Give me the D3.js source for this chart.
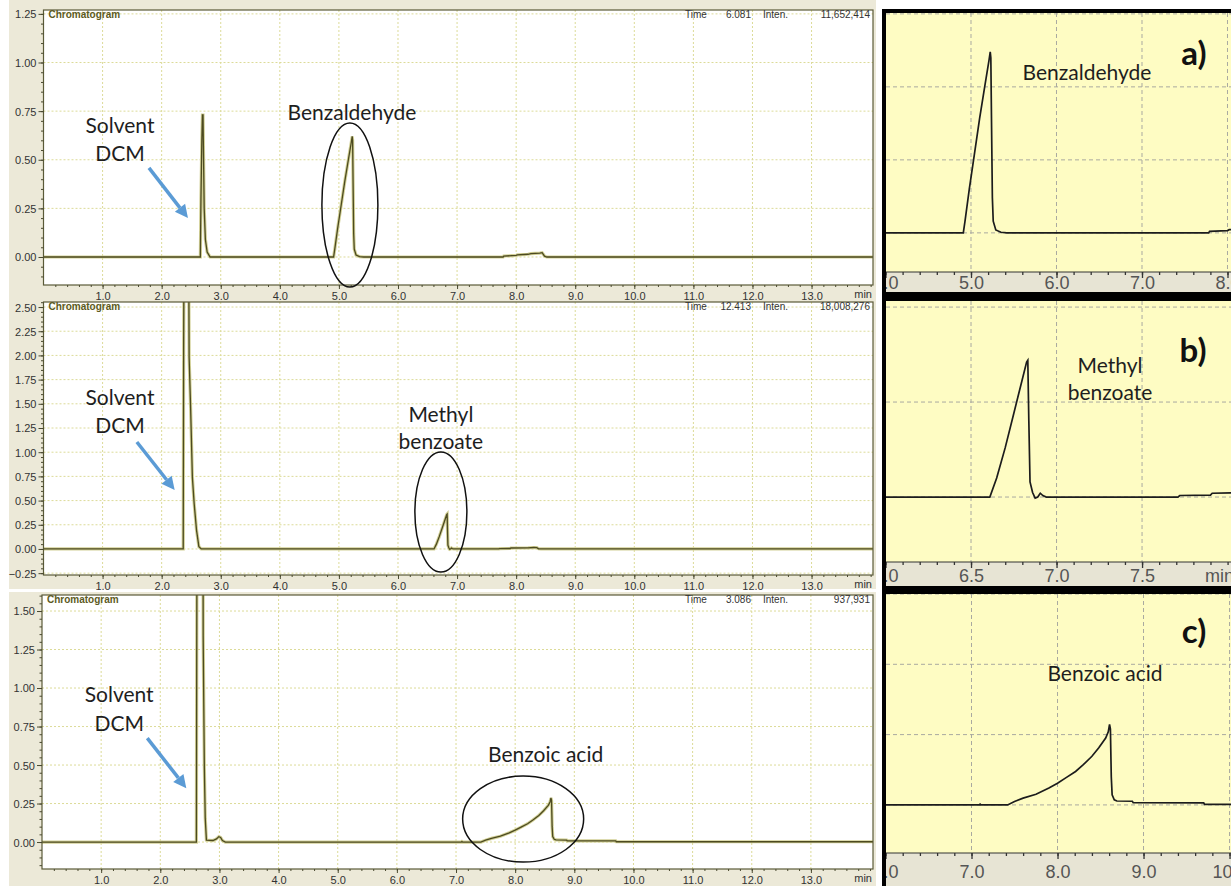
<!DOCTYPE html>
<html>
<head>
<meta charset="utf-8">
<script src="https://cdn.jsdelivr.net/npm/d3@7"></script>
<style>
  body { margin: 0; background: #fff; }
  svg { display: block; }
</style>
</head>
<body>
<div id="chart"></div>
<script>
// GC traces: [retention time (min), intensity (x10^7)]
const benzaldehydeRun = [
  [0, 0], [2.655, 0], [2.665, 0.30], [2.68, 0.60], [2.69, 0.73], [2.70, 0.73], [2.705, 0.60],
  [2.72, 0.25], [2.74, 0.09], [2.77, 0.025], [2.82, 0],
  [4.91, 0], [4.93, 0.04], [4.98, 0.15], [5.04, 0.27], [5.10, 0.39], [5.16, 0.50], [5.21, 0.59],
  [5.225, 0.62], [5.232, 0.60], [5.24, 0.38], [5.25, 0.12], [5.26, 0.04], [5.29, 0.01], [5.35, 0.002], [5.42, 0],
  [7.78, 0], [7.79, 0.005], [8.0, 0.008], [8.02, 0.011], [8.2, 0.014], [8.25, 0.017], [8.40, 0.02],
  [8.44, 0.022], [8.48, 0.004], [8.52, 0], [14.2, 0]
];
const methylBenzoateRun = [
  [0, 0], [2.365, 0], [2.372, 2.05], [2.38, 3.5], [2.455, 3.5], [2.465, 1.98], [2.49, 1.46],
  [2.52, 0.74], [2.55, 0.47], [2.59, 0.195], [2.63, 0.024], [2.67, 0],
  [6.61, 0], [6.65, 0.05], [6.70, 0.13], [6.75, 0.22], [6.80, 0.31], [6.825, 0.355], [6.832, 0.36],
  [6.838, 0.2], [6.845, 0.04], [6.86, 0.012], [6.875, -0.003], [6.89, 0.0], [6.905, 0.01], [6.92, 0.004], [6.94, 0],
  [7.71, 0], [7.72, 0.004], [7.90, 0.005], [7.91, 0.01], [8.2, 0.012], [8.3, 0.015], [8.35, 0.014],
  [8.38, 0.002], [8.42, 0], [14.2, 0]
];
const benzoicAcidRun = [
  [0, 0], [2.61, 0], [2.62, 2.0], [2.625, 3.0], [2.72, 3.0], [2.725, 1.34], [2.735, 0.9], [2.745, 0.48],
  [2.76, 0.155], [2.78, 0.013], [2.89, 0.01], [2.95, 0.02], [2.99, 0.035], [3.02, 0.03], [3.05, 0.01], [3.1, 0],
  [7.09, 0], [7.1, 0.003], [7.11, 0], [7.42, 0], [7.5, 0.012], [7.6, 0.024], [7.75, 0.038], [7.9, 0.06],
  [8.0, 0.077], [8.1, 0.097], [8.21, 0.119], [8.3, 0.143], [8.4, 0.173], [8.48, 0.203], [8.56, 0.238],
  [8.59, 0.26], [8.605, 0.286], [8.615, 0.27], [8.625, 0.1], [8.635, 0.036], [8.66, 0.018], [8.69, 0.014],
  [8.87, 0.013], [8.88, 0.008], [9.7, 0.007], [9.71, 0.002], [14.2, 0.002]
];

const headerTimes = ["6.081", "12.413", "3.086"];
const headerIntens = ["11,652,414", "18,008,276", "937,931"];
const overviewXTicks = [1, 2, 3, 4, 5, 6, 7, 8, 9, 10, 11, 12, 13];
const benzYTicks = [0, 0.25, 0.5, 0.75, 1.0, 1.25];
const methylYTicks = [-0.25, 0, 0.25, 0.5, 0.75, 1.0, 1.25, 1.5, 1.75, 2.0, 2.25, 2.5];
const acidYTicks = [0, 0.25, 0.5, 0.75, 1.0, 1.25, 1.5];
const compoundNames = [["Benzaldehyde"], ["Methyl", "benzoate"], ["Benzoic acid"]];
const panelTags = ["a)", "b)", "c)"];
const zoomXTicks = [[4, 5, 6, 7, 8], [6, 6.5, 7, 7.5], [6, 7, 8, 9, 10]];
const zoomGridY = [0, 0.25, 0.5, 0.75];

const W = 1231, H = 886;
const svg = d3.select('#chart').append('svg').attr('width', W).attr('height', H);
const fmt1 = d3.format('.1f'), fmt2 = d3.format('.2f');

const overviewPanels = [
  { run: benzaldehydeRun, box: [43.5, 873, 10, 285], xMax: 14.04, yDom: [-0.144, 1.27], yTicks: benzYTicks, bg: [0, 300],
    solvent: [1.294, 0.638, 0.494], arrow: [[1.785, 0.458], [2.445, 0.2]],
    name: [5.22, [0.705]], ellipse: [5.186, 0.267, 28, 82] },
  { run: methylBenzoateRun, box: [43.5, 873, 302, 575], xMax: 14.04, yDom: [-0.269, 2.552], yTicks: methylYTicks, bg: [300, 589],
    solvent: [1.294, 1.488, 1.198], arrow: [[1.58, 1.105], [2.22, 0.61]],
    name: [6.726, [1.312, 1.033]], ellipse: [6.726, 0.382, 26, 60] },
  { run: benzoicAcidRun, box: [42, 873, 595, 869], xMax: 14.05, yDom: [-0.175, 1.604], yTicks: acidYTicks, bg: [592, 886],
    solvent: [1.305, 0.909, 0.721], arrow: [[1.78, 0.675], [2.44, 0.35]],
    name: [8.515, [0.519]], ellipse: [8.135, 0.149, 60.5, 43] }
];

const annotFont = '21px Lato, "Open Sans", sans-serif';

function drawOverview(p, i) {
  const [x0, x1, y0, y1] = p.box;
  const g = svg.append('g');
  g.append('rect').attr('x', 9).attr('y', p.bg[0]).attr('width', 867).attr('height', p.bg[1] - p.bg[0]).attr('fill', '#ece9d8');
  g.append('rect').attr('x', x0).attr('y', y0).attr('width', x1 - x0).attr('height', y1 - y0).attr('fill', '#fff');

  const x = d3.scaleLinear().domain([0, p.xMax]).range([x0, x1]);
  const y = d3.scaleLinear().domain(p.yDom).range([y1, y0]);

  // dotted grid
  const grid = g.append('g').attr('stroke', '#dcdb98').attr('stroke-dasharray', '2,2').attr('stroke-width', 1);
  grid.selectAll('.vx').data(overviewXTicks).join('line')
    .attr('x1', d => x(d)).attr('x2', d => x(d)).attr('y1', y0).attr('y2', y1);
  grid.selectAll('.hy').data(p.yTicks).join('line')
    .attr('x1', x0).attr('x2', x1).attr('y1', d => y(d)).attr('y2', d => y(d));

  // trace
  const clipId = 'clipO' + i;
  g.append('clipPath').attr('id', clipId).append('rect')
    .attr('x', x0).attr('y', y0).attr('width', x1 - x0).attr('height', y1 - y0);
  const line = d3.line().x(d => x(d[0])).y(d => y(d[1]));
  const tr = g.append('g').attr('clip-path', `url(#${clipId})`);
  tr.append('path').datum(p.run).attr('d', line).attr('fill', 'none').attr('stroke', '#d2d096').attr('stroke-width', 3.2);
  tr.append('path').datum(p.run).attr('d', line).attr('fill', 'none').attr('stroke', '#4c4a20').attr('stroke-width', 1.3);

  // frame
  g.append('rect').attr('x', x0).attr('y', y0).attr('width', x1 - x0).attr('height', y1 - y0)
    .attr('fill', 'none').attr('stroke', '#5a5a38').attr('stroke-width', 1.2);

  // axes
  const minorX = d3.range(0.2, p.xMax, 0.2);
  const minorY = d3.range(Math.ceil(p.yDom[0] / 0.05) * 0.05, p.yDom[1], 0.05);
  g.append('g').attr('transform', `translate(0,${y1})`)
    .call(d3.axisBottom(x).tickValues(overviewXTicks).tickFormat(fmt1).tickSize(4).tickPadding(3));
  g.append('g').attr('transform', `translate(0,${y1})`)
    .call(d3.axisBottom(x).tickValues(minorX).tickFormat('').tickSize(2));
  const ya = g.append('g').attr('transform', `translate(${x0},0)`)
    .call(d3.axisLeft(y).tickValues(p.yTicks).tickFormat(fmt2).tickSize(5).tickPadding(2));
  g.append('g').attr('transform', `translate(${x0},0)`)
    .call(d3.axisLeft(y).tickValues(minorY).tickFormat('').tickSize(2.5));
  g.selectAll('.domain').remove();
  g.selectAll('.tick line').attr('stroke', '#4a4a30');
  g.selectAll('.tick text').attr('fill', '#333').style('font', '11px "Liberation Sans", Arial, sans-serif');
  ya.selectAll('.tick text').attr('dy', '0.36em');

  g.append('text').attr('x', 872).attr('y', y1 + 13).attr('text-anchor', 'end')
    .attr('fill', '#333').style('font', '11px "Liberation Sans", Arial, sans-serif').text('min');

  // header
  const hf = '10px "Liberation Sans", Arial, sans-serif';
  g.append('text').attr('x', x0 + 5).attr('y', y0 + 8).attr('fill', '#5c5a22')
    .style('font', 'bold ' + hf).text('Chromatogram');
  g.append('text').attr('x', 685).attr('y', y0 + 8).attr('fill', '#333').style('font', hf).text('Time');
  g.append('text').attr('x', 751).attr('y', y0 + 8).attr('text-anchor', 'end').attr('fill', '#333').style('font', hf).text(headerTimes[i]);
  g.append('text').attr('x', 763).attr('y', y0 + 8).attr('fill', '#333').style('font', hf).text('Inten.');
  g.append('text').attr('x', 870).attr('y', y0 + 8).attr('text-anchor', 'end').attr('fill', '#333').style('font', hf).text(headerIntens[i]);

  // annotations
  g.append('text').attr('x', x(p.solvent[0])).attr('y', y(p.solvent[1])).attr('text-anchor', 'middle')
    .attr('fill', '#1e1e1e').style('font', annotFont).text('Solvent');
  g.append('text').attr('x', x(p.solvent[0])).attr('y', y(p.solvent[2])).attr('text-anchor', 'middle')
    .attr('fill', '#1e1e1e').style('font', annotFont).text('DCM');
  compoundNames[i].forEach((t, k) => {
    g.append('text').attr('x', x(p.name[0])).attr('y', y(p.name[1][k])).attr('text-anchor', 'middle')
      .attr('fill', '#1e1e1e').style('font', annotFont).text(t);
  });
  g.append('ellipse').attr('cx', x(p.ellipse[0])).attr('cy', y(p.ellipse[1]))
    .attr('rx', p.ellipse[2]).attr('ry', p.ellipse[3])
    .attr('fill', 'none').attr('stroke', '#111').attr('stroke-width', 1.5);

  // arrow
  const [a0, a1] = p.arrow;
  const sx = x(a0[0]), sy = y(a0[1]), ex = x(a1[0]), ey = y(a1[1]);
  const ang = Math.atan2(ey - sy, ex - sx), hl = 13, hw = 6.5;
  const bx = ex - hl * Math.cos(ang), by = ey - hl * Math.sin(ang);
  g.append('line').attr('x1', sx).attr('y1', sy).attr('x2', bx).attr('y2', by)
    .attr('stroke', '#5b9bd5').attr('stroke-width', 3.5);
  g.append('path').attr('fill', '#5b9bd5')
    .attr('d', `M${ex},${ey}L${bx + hw * Math.sin(ang)},${by - hw * Math.cos(ang)}L${bx - hw * Math.sin(ang)},${by + hw * Math.cos(ang)}Z`);
}

overviewPanels.forEach(drawOverview);

// zoomed panels on the right
const zoomPanels = [
  { run: benzaldehydeRun, plot: [13, 272], strip: 292, labelY: 4, xDom: [4, 8.041], yDom: [-0.134, 0.753],
    tag: [7.608, 0.575], name: [6.357, [0.524]], minor: 0.2 },
  { run: methylBenzoateRun, plot: [301, 562], strip: 586, labelY: 7, xDom: [6, 8.02], yDom: [-0.171, 0.516],
    tag: [7.798, 0.355], name: [7.313, [0.326, 0.255]], minor: 0.1 },
  { run: benzoicAcidRun, plot: [594, 853], strip: 886, labelY: 12, xDom: [6, 10.017], yDom: [-0.171, 0.75],
    tag: [9.587, 0.575], name: [8.552, [0.439]], minor: 0.2 }
];
const zx0 = 885.5, zx1 = W;
const zoomTickFont = '18px "Liberation Sans", Arial, sans-serif';

function drawZoom(p, i) {
  const [y0, y1] = p.plot;
  const g = svg.append('g');
  const x = d3.scaleLinear().domain(p.xDom).range([zx0, zx1]);
  const y = d3.scaleLinear().domain(p.yDom).range([y1, y0]);
  const clipId = 'clipZ' + i;
  g.append('clipPath').attr('id', clipId).append('rect')
    .attr('x', 886).attr('y', y0).attr('width', W - 886).attr('height', p.strip - y0);
  const c = g.append('g').attr('clip-path', `url(#${clipId})`);
  c.append('rect').attr('x', 886).attr('y', y0).attr('width', W - 886).attr('height', y1 - y0).attr('fill', '#fefcc3');
  c.append('rect').attr('x', 886).attr('y', y1).attr('width', W - 886).attr('height', p.strip - y1).attr('fill', '#e7e4d4');

  const grid = c.append('g').attr('stroke', '#a9a9a0').attr('stroke-dasharray', '4,3').attr('stroke-width', 1);
  grid.selectAll('.vx').data(zoomXTicks[i]).join('line')
    .attr('x1', d => x(d)).attr('x2', d => x(d)).attr('y1', y0).attr('y2', y1);
  grid.selectAll('.hy').data(zoomGridY.filter(v => y(v) > y0 - 0.5)).join('line')
    .attr('x1', 886).attr('x2', W).attr('y1', d => y(d)).attr('y2', d => y(d));

  const line = d3.line().x(d => x(d[0])).y(d => y(d[1]));
  const tc = c.append('g');
  tc.append('clipPath').attr('id', clipId + 'p').append('rect')
    .attr('x', 886).attr('y', y0).attr('width', W - 886).attr('height', y1 - y0);
  tc.append('path').datum(p.run).attr('d', line).attr('clip-path', `url(#${clipId}p)`)
    .attr('fill', 'none').attr('stroke', '#1c1c1c').attr('stroke-width', 1.7);

  // axis strip
  const minor = d3.range(p.xDom[0], p.xDom[1], p.minor);
  c.append('line').attr('x1', 886).attr('x2', W).attr('y1', y1).attr('y2', y1).attr('stroke', '#333').attr('stroke-width', 1.2);
  const ax = c.append('g').attr('transform', `translate(0,${y1})`)
    .call(d3.axisBottom(x).tickValues(zoomXTicks[i]).tickFormat(fmt1).tickSize(6).tickPadding(0));
  c.append('g').attr('transform', `translate(0,${y1})`)
    .call(d3.axisBottom(x).tickValues(minor).tickFormat('').tickSize(3));
  c.selectAll('.domain').remove();
  c.selectAll('.tick line').attr('stroke', '#333').attr('stroke-width', 1.3);
  ax.selectAll('.tick text').attr('y', p.labelY).attr('fill', '#555').style('font', zoomTickFont);
  if (i === 1) {
    c.append('text').attr('x', 1205).attr('y', y1 + p.labelY).attr('dy', '0.71em').attr('fill', '#555')
      .style('font', zoomTickFont).text('min');
  }

  g.append('text').attr('x', x(p.tag[0])).attr('y', y(p.tag[1])).attr('text-anchor', 'middle')
    .attr('fill', '#111').style('font', 'bold 33px Lato, "Open Sans", sans-serif').text(panelTags[i]);
  compoundNames[i].forEach((t, k) => {
    g.append('text').attr('x', x(p.name[0])).attr('y', y(p.name[1][k])).attr('text-anchor', 'middle')
      .attr('fill', '#1e1e1e').style('font', annotFont).text(t);
  });
}

zoomPanels.forEach(drawZoom);

// thick black frame around the zoom column
const frame = svg.append('g').attr('fill', '#000');
frame.append('rect').attr('x', 882).attr('y', 9).attr('width', 4).attr('height', H - 9);
frame.append('rect').attr('x', 882).attr('y', 9).attr('width', W - 882).attr('height', 4);
frame.append('rect').attr('x', 882).attr('y', 292).attr('width', W - 882).attr('height', 9);
frame.append('rect').attr('x', 882).attr('y', 586).attr('width', W - 882).attr('height', 8);
</script>
</body>
</html>
